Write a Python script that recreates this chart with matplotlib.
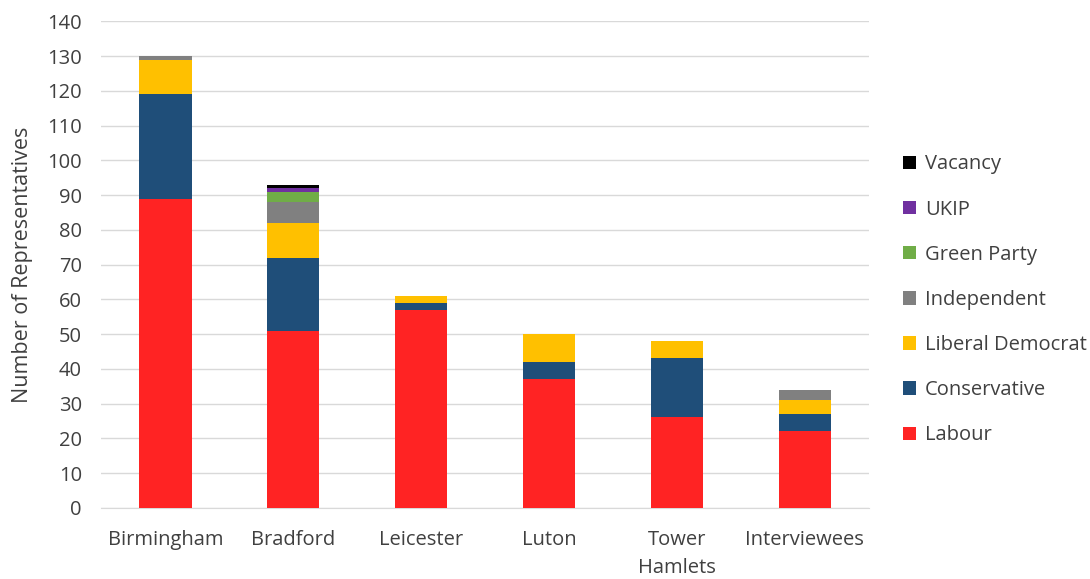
import matplotlib.pyplot as plt
from matplotlib.patches import Patch
import numpy as np

plt.rcParams['font.family'] = ['Open Sans', 'DejaVu Sans']

# === DATA ===
areas = ['Birmingham', 'Bradford', 'Leicester', 'Luton', 'Tower\nHamlets', 'Interviewees']
labour = [89, 51, 57, 37, 26, 22]
conservative = [30, 21, 2, 5, 17, 5]
lib_dem = [10, 10, 2, 8, 5, 4]
independent = [1, 6, 0, 0, 0, 3]
green = [0, 3, 0, 0, 0, 0]
ukip = [0, 1, 0, 0, 0, 0]
vacancy = [0, 1, 0, 0, 0, 0]

series = [
    ('Labour', labour, '#FF2323'),
    ('Conservative', conservative, '#1F4E79'),
    ('Liberal Democrat', lib_dem, '#FFC000'),
    ('Independent', independent, '#808080'),
    ('Green Party', green, '#70AD47'),
    ('UKIP', ukip, '#7030A0'),
    ('Vacancy', vacancy, '#000000'),
]

# === PLOTTING ===
fig = plt.figure(figsize=(10.9, 5.79), dpi=100)
ax = fig.add_axes([0.093, 0.123, 0.704, 0.84])

x = np.arange(len(areas))
bottom = np.zeros(len(areas))
for name, vals, col in series:
    ax.bar(x, vals, 0.41, bottom=bottom, color=col, zorder=3)
    bottom += np.array(vals)

ax.set_xlim(-0.5, len(areas) - 0.5)
ax.set_ylim(0, 140)
ax.set_yticks(range(0, 141, 10))
ax.set_xticks(x)
ax.set_xticklabels(areas, linespacing=1.5)
ax.tick_params(axis='both', length=0, labelsize=14.5, colors='#404040')
ax.tick_params(axis='x', pad=16)
ax.tick_params(axis='y', pad=14)
ax.grid(axis='y', color='#D9D9D9', linewidth=1, zorder=0)
for s in ['top', 'right', 'left']:
    ax.spines[s].set_visible(False)
ax.spines['bottom'].set_color('#D9D9D9')
ax.set_ylabel('Number of Representatives', fontsize=15.5, color='#404040', labelpad=10)

handles = [Patch(facecolor=col, label=name) for name, vals, col in reversed(series)]
fig.legend(handles=handles, loc='center left', bbox_to_anchor=(0.828, 0.482),
           frameon=False, fontsize=14.5, handlelength=0.65, handleheight=0.65,
           labelspacing=1.25, handletextpad=0.45, labelcolor='#404040',
           borderaxespad=0, borderpad=0)

plt.savefig('out.png', dpi=100)
